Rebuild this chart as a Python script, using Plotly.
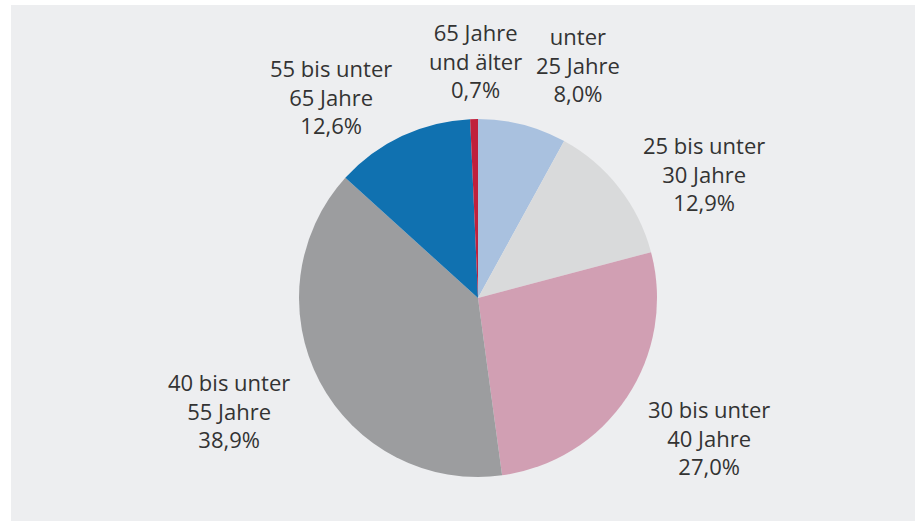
import plotly.graph_objects as go

# Data
categories = ["unter<br>25 Jahre", "25 bis unter<br>30 Jahre", "30 bis unter<br>40 Jahre",
              "40 bis unter<br>55 Jahre", "55 bis unter<br>65 Jahre", "65 Jahre<br>und älter"]
shares = [8.0, 12.9, 27.0, 38.9, 12.6, 0.7]
colors = ["#a9c1df", "#d9dadb", "#d19fb3", "#9c9d9f", "#1071b0", "#c0203c"]

W, H = 917, 522
cx, cy, r = 478, 298, 179

# label block centres (pixels)
label_pos = [(578, 64), (704, 173), (709, 437), (229, 410), (331, 96), (475, 61)]

fig = go.Figure()
fig.add_trace(go.Pie(
    labels=[c.replace("<br>", " ") for c in categories],
    values=shares,
    marker=dict(colors=colors, line=dict(width=0)),
    sort=False,
    direction="clockwise",
    rotation=0,
    textinfo="none",
    hoverinfo="label+percent",
    showlegend=False,
    domain=dict(x=[(cx - r) / W, (cx + r) / W], y=[(H - cy - r) / H, (H - cy + r) / H]),
))

annotations = []
for cat, val, (px, py) in zip(categories, shares, label_pos):
    txt = f"{cat}<br>{val:.1f}%".replace(".", ",")
    annotations.append(dict(
        x=px / W, y=1 - py / H, xref="paper", yref="paper",
        text=txt, showarrow=False, xanchor="center", yanchor="middle",
        align="center", font=dict(family="Open Sans", size=22, color="#333333"),
    ))

fig.update_layout(
    width=W, height=H,
    margin=dict(l=0, r=0, t=0, b=0),
    paper_bgcolor="white",
    plot_bgcolor="white",
    annotations=annotations,
    shapes=[dict(type="rect", xref="paper", yref="paper",
                 x0=11 / W, x1=915 / W, y0=1 / H, y1=1 - 5 / H,
                 fillcolor="#edeef0", line=dict(width=0), layer="below")],
)

fig.write_html("out.html", config={"displayModeBar": False},
               post_script="document.body.style.margin='0';")
